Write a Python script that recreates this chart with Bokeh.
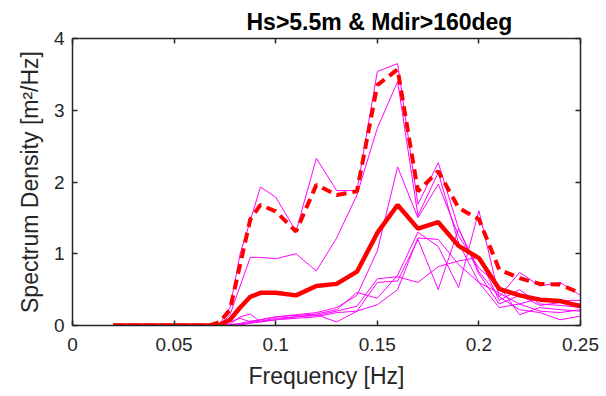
from bokeh.plotting import figure
from bokeh.models import LinearAxis, FixedTicker, Range1d
from bokeh.embed import file_html
from bokeh.resources import INLINE

# Frequency bins [Hz]
freq = [0.02, 0.0325, 0.0375, 0.0425, 0.0475, 0.0525, 0.0575, 0.0625, 0.0675,
        0.0725, 0.0775, 0.0825, 0.0875, 0.0925, 0.1, 0.11, 0.12, 0.13, 0.14,
        0.15, 0.16, 0.17, 0.18, 0.19, 0.2, 0.21, 0.22, 0.23, 0.24, 0.25]

z9 = [0.0, 0.0, 0.0, 0.0, 0.0, 0.0, 0.0, 0.0, 0.0]

# individual spectra (thin magenta)
spec_a = z9 + [0.02, 0.25, 1.0, 1.46, 1.93, 1.79, 1.31, 2.33, 1.88, 1.88, 3.54, 3.65, 1.69, 2.27, 1.35, 0.75, 0.4, 0.74, 0.55, 0.6, 0.42]
spec_b = z9 + [0.01, 0.15, 0.55, 0.95, 0.95, 0.93, 1.0, 0.76, 1.22, 1.82, 2.75, 3.40, 1.53, 2.13, 1.15, 0.6, 0.45, 0.3, 0.38, 0.35, 0.35]
spec_c = z9 + [0.0, 0.05, 0.1, 0.05, 0.08, 0.12, 0.15, 0.18, 0.25, 0.42, 1.04, 2.21, 1.5, 1.97, 1.25, 0.8, 0.55, 0.15, 0.25, 0.22, 0.2]
spec_d = z9 + [0.0, 0.02, 0.12, 0.16, 0.05, 0.08, 0.12, 0.15, 0.05, 0.2, 0.6, 0.62, 1.2, 0.5, 1.35, 0.72, 0.3, 0.42, 0.28, 0.32, 0.3]
spec_e = z9 + [0.0, 0.01, 0.03, 0.06, 0.08, 0.12, 0.14, 0.16, 0.22, 0.46, 0.38, 0.7, 1.3, 1.1, 0.53, 1.6, 0.4, 0.22, 0.18, 0.08, 0.13]
spec_f = z9 + [0.0, 0.01, 0.02, 0.04, 0.06, 0.1, 0.12, 0.14, 0.2, 0.27, 0.65, 0.68, 0.6, 0.82, 0.9, 0.95, 0.35, 0.5, 0.3, 0.28, 0.25]
spec_g = z9 + [0.0, 0.0, 0.01, 0.03, 0.05, 0.08, 0.1, 0.12, 0.18, 0.2, 0.29, 0.5, 1.22, 1.2, 0.85, 0.6, 0.25, 0.3, 0.2, 0.18, 0.22]

# mean spectrum (thick red) and upper curve (dashed red)
spec_mean = z9 + [0.01, 0.08, 0.25, 0.40, 0.455, 0.455, 0.42, 0.55, 0.58, 0.75, 1.29, 1.68, 1.35, 1.44, 1.11, 0.94, 0.51, 0.42, 0.36, 0.34, 0.27]
spec_upper = z9 + [0.05, 0.22, 0.85, 1.48, 1.68, 1.59, 1.31, 1.96, 1.82, 1.87, 3.35, 3.57, 1.87, 2.15, 1.64, 1.48, 0.78, 0.66, 0.58, 0.57, 0.45]

x_ticks = [0, 0.05, 0.1, 0.15, 0.2, 0.25]
x_tick_labels = ["0", "0.05", "0.1", "0.15", "0.2", "0.25"]
y_ticks = [0, 1, 2, 3, 4]
y_tick_labels = ["0", "1", "2", "3", "4"]

FONT = "Liberation Sans"
AX = "#262626"

p = figure(width=606, height=396, output_backend="svg", toolbar_location=None,
           x_range=Range1d(0, 0.25), y_range=Range1d(0, 4),
           min_border_left=72, min_border_right=26, min_border_top=38, min_border_bottom=71,
           title="Hs>5.5m & Mdir>160deg")
p.outline_line_color = None
p.grid.visible = False
p.background_fill_color = "white"
p.border_fill_color = "white"

p.title.align = "left"
p.title.offset = 174
p.title.text_font = FONT
p.title.text_font_size = "23px"
p.title.text_font_style = "bold"
p.title.text_color = "black"
p.title.standoff = 7

for thin in [spec_a, spec_b, spec_c, spec_d, spec_e, spec_f, spec_g]:
    p.line(freq, thin, line_color="#FF00FF", line_width=1)
p.line(freq, spec_upper, line_color="#FF0000", line_width=4, line_dash="10 6")
p.line(freq, spec_mean, line_color="#FF0000", line_width=4.5)

def style(ax, ticks, labels, show_labels=True):
    ax.ticker = FixedTicker(ticks=ticks)
    ax.major_label_overrides = {t: l for t, l in zip(ticks, labels)}
    ax.axis_line_color = AX
    ax.axis_line_width = 1.5
    ax.major_tick_line_color = AX
    ax.major_tick_line_width = 1.5
    ax.major_tick_in = 5
    ax.major_tick_out = 0
    ax.minor_tick_line_color = None
    ax.major_label_text_font = FONT
    ax.major_label_text_font_size = "19px"
    ax.major_label_text_color = AX
    ax.axis_label_text_font = FONT
    ax.axis_label_text_font_size = "23px"
    ax.axis_label_text_font_style = "normal"
    ax.axis_label_text_color = AX
    if not show_labels:
        ax.major_label_text_font_size = "0px"
        ax.major_label_standoff = 0

xa = p.xaxis[0]
style(xa, x_ticks, x_tick_labels)
xa.axis_label = "Frequency [Hz]"
xa.major_label_standoff = 12
xa.axis_label_standoff = 9

ya = p.yaxis[0]
style(ya, y_ticks, y_tick_labels)
ya.axis_label = "Spectrum Density [m\u00b2/Hz]"
ya.major_label_standoff = 8
ya.axis_label_standoff = 8

top = LinearAxis()
style(top, x_ticks, x_tick_labels, show_labels=False)
p.add_layout(top, "above")
right = LinearAxis()
style(right, y_ticks, y_tick_labels, show_labels=False)
p.add_layout(right, "right")

open("out.html", "w").write(file_html(p, INLINE))
